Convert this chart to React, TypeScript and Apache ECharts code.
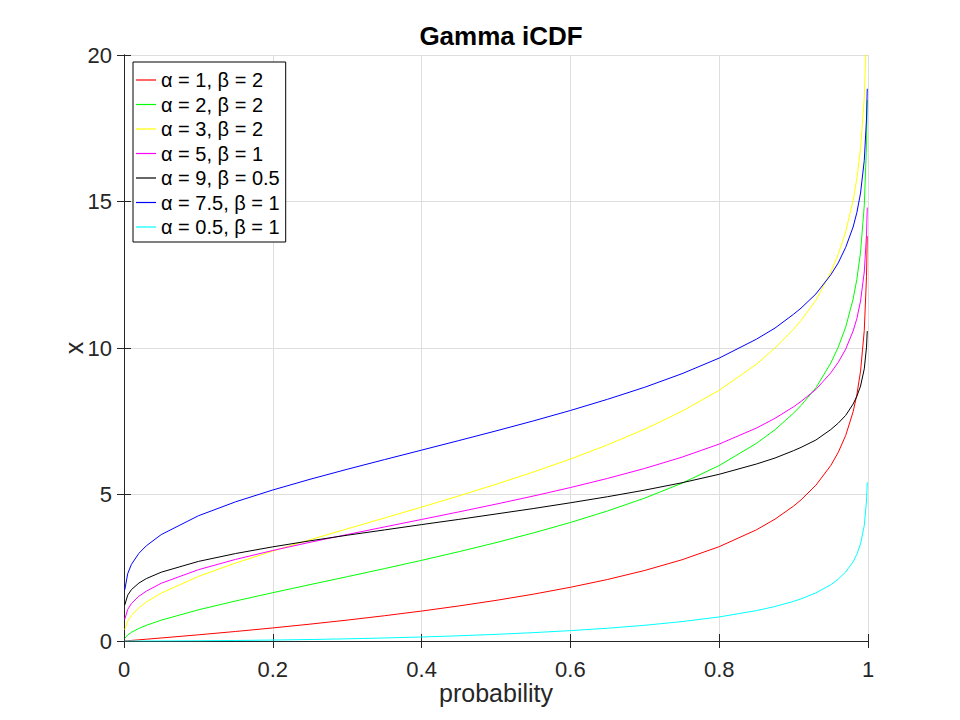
import React, { useEffect, useRef } from "react";
import * as echarts from "echarts";

const probs = [
  0.001, 0.005, 0.01, 0.02, 0.03, 0.05, 0.1, 0.15, 0.2, 0.25, 0.3, 0.35, 0.4,
  0.45, 0.5, 0.55, 0.6, 0.65, 0.7, 0.75, 0.8, 0.85, 0.875, 0.9, 0.91, 0.93,
  0.95, 0.96, 0.97, 0.98, 0.985, 0.99, 0.995, 0.998, 0.999,
];

const seriesNames = [
  "α = 1, β = 2",
  "α = 2, β = 2",
  "α = 3, β = 2",
  "α = 5, β = 1",
  "α = 9, β = 0.5",
  "α = 7.5, β = 1",
  "α = 0.5, β = 1",
];

const seriesColors = [
  "#ff0000",
  "#00ff00",
  "#ffff00",
  "#ff00ff",
  "#000000",
  "#0000ff",
  "#00ffff",
];

const redValues = [
  0.002, 0.01, 0.02, 0.04, 0.061, 0.103, 0.211, 0.325, 0.446, 0.575, 0.713,
  0.862, 1.022, 1.196, 1.386, 1.597, 1.833, 2.1, 2.408, 2.773, 3.219, 3.794,
  4.159, 4.605, 4.816, 5.318, 5.991, 6.438, 7.013, 7.824, 8.399, 9.21, 10.597,
  12.43, 13.816,
];
const greenValues = [
  0.091, 0.207, 0.297, 0.429, 0.535, 0.711, 1.064, 1.366, 1.649, 1.923, 2.195,
  2.47, 2.753, 3.047, 3.357, 3.687, 4.045, 4.438, 4.878, 5.385, 5.989, 6.745,
  7.21, 7.779, 8.04, 8.64, 9.488, 10.03, 10.71, 11.668, 12.34, 13.277, 14.86,
  16.92, 18.467,
];
const yellowValues = [
  0.381, 0.676, 0.872, 1.134, 1.33, 1.635, 2.204, 2.661, 3.07, 3.455, 3.828,
  4.197, 4.57, 4.951, 5.348, 5.765, 6.211, 6.695, 7.231, 7.841, 8.558, 9.446,
  10.0, 10.645, 10.94, 11.63, 12.592, 13.2, 13.97, 15.033, 15.78, 16.812,
  18.548, 20.79, 22.458,
];
const magentaValues = [
  0.74, 1.078, 1.279, 1.53, 1.7, 1.97, 2.433, 2.785, 3.09, 3.369, 3.634, 3.892,
  4.148, 4.406, 4.671, 4.946, 5.237, 5.549, 5.891, 6.275, 6.721, 7.267, 7.6,
  7.994, 8.175, 8.585, 9.154, 9.51, 9.96, 10.58, 11.0, 11.605, 12.594, 13.86,
  14.794,
];
const blackValues = [
  1.226, 1.566, 1.754, 1.977, 2.13, 2.348, 2.716, 2.985, 3.214, 3.419, 3.61,
  3.79, 3.973, 4.15, 4.335, 4.52, 4.717, 4.925, 5.15, 5.401, 5.69, 6.04, 6.245,
  6.497, 6.608, 6.86, 7.217, 7.435, 7.7, 8.087, 8.348, 8.701, 9.289, 10.03,
  10.578,
];
const blueValues = [
  1.742, 2.3, 2.615, 2.993, 3.25, 3.631, 4.274, 4.75, 5.154, 5.519, 5.861, 6.19,
  6.515, 6.84, 7.17, 7.51, 7.867, 8.25, 8.661, 9.123, 9.656, 10.3, 10.68,
  11.154, 11.36, 11.845, 12.498, 12.905, 13.435, 14.13, 14.62, 15.289, 16.4,
  17.815, 18.849,
];
const cyanValues = [
  0, 0, 0.0001, 0.0003, 0.0007, 0.002, 0.008, 0.018, 0.032, 0.051, 0.074,
  0.103, 0.137, 0.178, 0.227, 0.285, 0.354, 0.436, 0.537, 0.662, 0.821, 1.036,
  1.177, 1.353, 1.437, 1.642, 1.921, 2.109, 2.355, 2.706, 2.957, 3.317, 3.94,
  4.775, 5.414,
];

const allValues = [
  redValues,
  greenValues,
  yellowValues,
  magentaValues,
  blackValues,
  blueValues,
  cyanValues,
];

const FONT = "'Liberation Sans', Arial, sans-serif";
const AXIS_COLOR = "#262626";

export default function App() {
  const chartRef = useRef<HTMLDivElement>(null);

  useEffect(() => {
    if (!chartRef.current) return;
    const chart = echarts.init(chartRef.current, undefined, {
      renderer: "svg",
    });

    const tickStyle = {
      show: true,
      inside: true,
      length: 7,
      lineStyle: { color: AXIS_COLOR, width: 1 },
    };

    const option = {
      animation: false,
      backgroundColor: "#ffffff",
      textStyle: { fontFamily: FONT },
      title: {
        text: "Gamma iCDF",
        left: 496,
        top: 18,
        textAlign: "center",
        textStyle: {
          fontFamily: FONT,
          fontSize: 26,
          fontWeight: "bold",
          color: "#000000",
        },
      },
      legend: {
        orient: "vertical",
        left: 133,
        top: 62,
        data: seriesNames,
        icon: "rect",
        itemWidth: 20,
        itemHeight: 1.2,
        itemGap: 4.5,
        padding: [8, 6, 5, 3],
        backgroundColor: "#ffffff",
        borderColor: "#000000",
        borderWidth: 1,
        borderRadius: 0,
        textStyle: {
          fontFamily: FONT,
          fontSize: 20,
          lineHeight: 20,
          color: "#000000",
        },
      },
      grid: {
        left: 124,
        right: 92,
        top: 55,
        bottom: 79,
        containLabel: false,
      },
      xAxis: [
        {
          type: "value",
          min: 0,
          max: 1,
          interval: 0.2,
          name: "probability",
          nameLocation: "middle",
          nameGap: 39,
          nameMoveOverlap: false,
          nameTextStyle: { fontFamily: FONT, fontSize: 25, color: AXIS_COLOR },
          axisLine: { show: true, lineStyle: { color: AXIS_COLOR, width: 1 } },
          axisTick: tickStyle,
          axisLabel: {
            fontFamily: FONT,
            fontSize: 22,
            color: AXIS_COLOR,
            margin: 17,
          },
          splitLine: { show: true, lineStyle: { color: "#dedede", width: 1 } },
        },
        {
          type: "value",
          position: "top",
          min: 0,
          max: 1,
          interval: 0.2,
          axisLine: { show: true, lineStyle: { color: AXIS_COLOR, width: 1 } },
          axisTick: tickStyle,
          axisLabel: { show: false },
          splitLine: { show: false },
        },
      ],
      yAxis: [
        {
          type: "value",
          min: 0,
          max: 20,
          interval: 5,
          name: "x",
          nameLocation: "middle",
          nameGap: 38,
          nameMoveOverlap: false,
          nameTextStyle: { fontFamily: FONT, fontSize: 25, color: AXIS_COLOR },
          axisLine: { show: true, lineStyle: { color: AXIS_COLOR, width: 1 } },
          axisTick: tickStyle,
          axisLabel: {
            fontFamily: FONT,
            fontSize: 22,
            color: AXIS_COLOR,
            margin: 12,
          },
          splitLine: { show: true, lineStyle: { color: "#dedede", width: 1 } },
        },
        {
          type: "value",
          position: "right",
          min: 0,
          max: 20,
          interval: 5,
          axisLine: { show: true, lineStyle: { color: AXIS_COLOR, width: 1 } },
          axisTick: tickStyle,
          axisLabel: { show: false },
          splitLine: { show: false },
        },
      ],
      series: seriesNames.map((name, i) => ({
        name,
        type: "line",
        xAxisIndex: 0,
        yAxisIndex: 0,
        showSymbol: false,
        symbol: "none",
        smooth: false,
        clip: true,
        color: seriesColors[i],
        lineStyle: { color: seriesColors[i], width: 1 },
        data: probs.map((p, j) => [p, allValues[i][j]]),
      })),
    };

    chart.setOption(option);

    return () => {
      chart.dispose();
    };
  }, []);

  return (
    <div
      ref={chartRef}
      style={{
        position: "absolute",
        left: 0,
        top: 0,
        width: "960px",
        height: "720px",
      }}
    />
  );
}
